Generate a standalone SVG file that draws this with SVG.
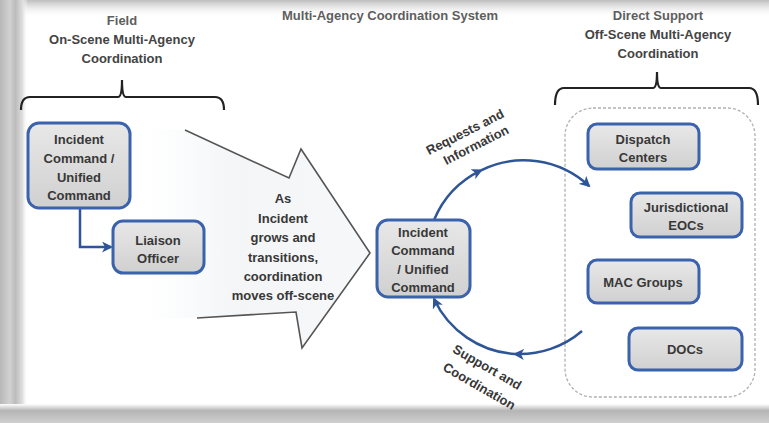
<svg xmlns="http://www.w3.org/2000/svg" width="769" height="423" viewBox="0 0 769 423">
<defs>
<linearGradient id="boxg" x1="0" y1="0" x2="0" y2="1"><stop offset="0" stop-color="#e8e8e8"/><stop offset="1" stop-color="#d0d0d0"/></linearGradient>
<linearGradient id="topg" x1="0" y1="0" x2="0" y2="1"><stop offset="0" stop-color="#bdbdbd"/><stop offset="1" stop-color="#ffffff" stop-opacity="0"/></linearGradient>
<linearGradient id="leftg" x1="0" y1="0" x2="1" y2="0"><stop offset="0" stop-color="#b8b8b8"/><stop offset="0.35" stop-color="#d2d2d2"/><stop offset="0.55" stop-color="#bcbcbc"/><stop offset="0.8" stop-color="#dedede"/><stop offset="1" stop-color="#ffffff" stop-opacity="0"/></linearGradient>
<linearGradient id="botg" x1="0" y1="0" x2="0" y2="1"><stop offset="0" stop-color="#ffffff"/><stop offset="0.35" stop-color="#b5b5b5"/><stop offset="1" stop-color="#cfcfcf"/></linearGradient>
<linearGradient id="arrg" x1="0" y1="0" x2="1" y2="0"><stop offset="0" stop-color="#f4f6f8" stop-opacity="0"/><stop offset="0.4" stop-color="#f3f5f7"/><stop offset="1" stop-color="#f7f8f9"/></linearGradient>
<marker id="ah" markerWidth="11" markerHeight="11" refX="9" refY="5.5" orient="auto" markerUnits="userSpaceOnUse"><path d="M0,0 L11,5.5 L0,11 L3,5.5 Z" fill="#2e5597"/></marker>
<style>
.t{font-family:"Liberation Sans",Arial,sans-serif;font-weight:bold;font-size:13px;fill:#383838;text-anchor:middle}
.h{fill:#444}
.hl{fill:#5e5e5e}
.box{fill:url(#boxg);stroke:#3a62ad;stroke-width:3}
.con{fill:none;stroke:#2e5597;stroke-width:2.5}
.br{fill:none;stroke:#222;stroke-width:2.2}
</style>
</defs>
<rect x="0" y="0" width="769" height="423" fill="#ffffff"/>
<rect x="0" y="0" width="769" height="18" fill="url(#topg)"/>
<rect x="0" y="0" width="28" height="423" fill="url(#leftg)"/>
<rect x="0" y="404" width="769" height="19" fill="url(#botg)"/>

<g id="headers">
<text class="t hl" x="122" y="25">Field</text>
<text class="t h" x="122" y="44">On-Scene Multi-Agency</text>
<text class="t h" x="122" y="63">Coordination</text>
<text class="t hl" x="390" y="20">Multi-Agency Coordination System</text>
<text class="t hl" x="658" y="20">Direct Support</text>
<text class="t h" x="658" y="39">Off-Scene Multi-Agency</text>
<text class="t h" x="658" y="58">Coordination</text>
</g>

<g id="brackets">
<path class="br" d="M21,110 Q21,97 30,97 L118,97 Q122,97 122,80 Q122,97 126,97 L215,97 Q224,97 224,110"/>
<path class="br" d="M555,105 Q555,88 564,88 L653,88 Q657,88 657,72 Q657,88 661,88 L749,88 Q758,88 758,105"/>
</g>

<g id="big-arrow">
<polygon points="185,130 289,178 301,149 370,253 302,348 296,312 197,318 150,318 150,130" fill="url(#arrg)"/>
<path d="M185,130 L289,178 L301,149 L370,253 L302,348 L296,312 L197,318" fill="none" stroke="#555" stroke-width="1.6" stroke-linejoin="miter"/>
<text class="t" x="283" y="203">As</text>
<text class="t" x="283" y="222.5">Incident</text>
<text class="t" x="283" y="242">grows and</text>
<text class="t" x="283" y="261.5">transitions,</text>
<text class="t" x="283" y="281">coordination</text>
<text class="t" x="283" y="300">moves off-scene</text>
</g>

<rect id="container" x="565" y="108" width="190" height="289" rx="28" fill="none" stroke="#b0b0b0" stroke-width="1.3" stroke-dasharray="3 2"/>

<g id="connectors">
<path class="con" d="M80,209 V247 H111" marker-end="url(#ah)"/>
<path class="con" d="M434,220 A96,96 0 0 1 481,170.3" marker-end="url(#ah)"/>
<path class="con" d="M481,170.3 A96,96 0 0 1 589,186" marker-end="url(#ah)"/>
<path class="con" d="M582,331 A96,96 0 0 1 515,354" marker-end="url(#ah)"/>
<path class="con" d="M515,354 A96,96 0 0 1 434,299" marker-end="url(#ah)"/>
<text class="t" font-size="12.5" transform="translate(467,136) rotate(-27)">Requests and</text>
<text class="t" font-size="12.5" transform="translate(478,149) rotate(-27)">Information</text>
<text class="t" font-size="12.5" transform="translate(485,371) rotate(30)">Support and</text>
<text class="t" font-size="12.5" transform="translate(477,390) rotate(30)">Coordination</text>
</g>

<g id="ic-field">
<rect class="box" x="28" y="123" width="102" height="85" rx="11"/>
<text class="t" x="79" y="144">Incident</text>
<text class="t" x="79" y="163">Command /</text>
<text class="t" x="79" y="182">Unified</text>
<text class="t" x="79" y="200">Command</text>
</g>

<g id="liaison">
<rect class="box" x="113" y="221" width="91" height="52" rx="10"/>
<text class="t" x="158" y="245">Liaison</text>
<text class="t" x="158" y="263">Officer</text>
</g>

<g id="ic-center">
<rect class="box" x="377" y="220" width="93" height="77" rx="11"/>
<text class="t" x="423" y="237">Incident</text>
<text class="t" x="423" y="255">Command</text>
<text class="t" x="423" y="274">/ Unified</text>
<text class="t" x="423" y="292">Command</text>
</g>

<g id="dispatch">
<rect class="box" x="588" y="124" width="111" height="45" rx="9"/>
<text class="t" x="643" y="144">Dispatch</text>
<text class="t" x="643" y="162">Centers</text>
</g>

<g id="eocs">
<rect class="box" x="631" y="193" width="111" height="44" rx="9"/>
<text class="t" x="686" y="212">Jurisdictional</text>
<text class="t" x="686" y="230">EOCs</text>
</g>

<g id="mac">
<rect class="box" x="588" y="260" width="111" height="43" rx="9"/>
<text class="t" x="643" y="287">MAC Groups</text>
</g>

<g id="docs">
<rect class="box" x="629" y="328" width="113" height="42" rx="9"/>
<text class="t" x="685" y="354">DOCs</text>
</g>
</svg>
